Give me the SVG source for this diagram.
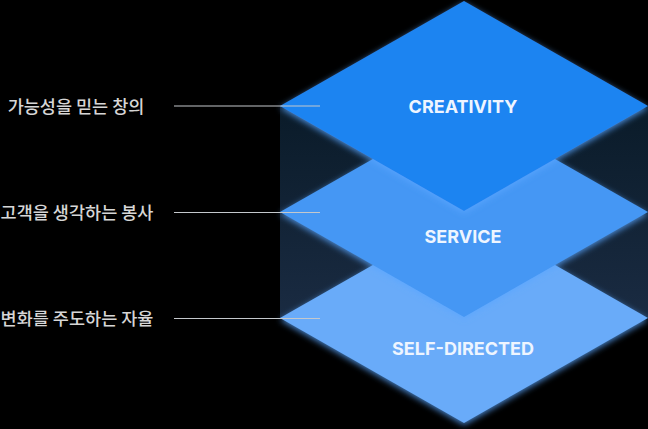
<svg xmlns="http://www.w3.org/2000/svg" width="648" height="429" viewBox="0 0 648 429">
  <defs>
    <linearGradient id="band" x1="0" y1="0" x2="0" y2="1">
      <stop offset="0" stop-color="#0a1b29"/>
      <stop offset="1" stop-color="#1a2b42"/>
    </linearGradient>
    <filter id="glow" x="-10%" y="-10%" width="120%" height="130%">
      <feDropShadow dx="0" dy="2" stdDeviation="3" flood-color="#5aa6ff" flood-opacity="0.8"/>
    </filter>
    <style>
      .kr { font-family: "Noto Sans CJK KR", "Noto Sans", sans-serif; font-size: 17.5px; fill: #d6d6d6; text-anchor: middle; font-weight: 500; }
      .en { font-family: Inter, "Liberation Sans", sans-serif; font-size: 18px; font-weight: 700; fill: #eef5ff; text-anchor: middle; }
      .lead { stroke: #c4c8cc; stroke-width: 1.2; fill: none; }
    </style>
  </defs>
  <rect width="648" height="429" fill="#000"/>

  <rect x="280" y="106" width="368" height="212" fill="url(#band)"/>

  <g id="self-directed">
    <polygon points="464,213 648,318 464,423 280,318" fill="#69abf9" filter="url(#glow)"/>
    <text class="en" x="463" y="354.5">SELF-DIRECTED</text>
  </g>
  <g id="service">
    <polygon points="464,107 648,212 464,317 280,212" fill="#4597f4" filter="url(#glow)"/>
    <text class="en" x="463" y="242.5">SERVICE</text>
  </g>
  <g id="creativity">
    <polygon points="464,1 648,106 464,211 280,106" fill="#1f84f1" filter="url(#glow)"/>
    <text class="en" x="463" y="112.5">CREATIVITY</text>
  </g>

  <g id="connectors">
    <line class="lead" x1="174" y1="106" x2="320" y2="106"/>
    <line class="lead" x1="174" y1="212.5" x2="320" y2="212.5"/>
    <line class="lead" x1="174" y1="318.5" x2="320" y2="318.5"/>
  </g>

  <g id="label-creativity"><text class="kr" x="76" y="112.5">가능성을 믿는 창의</text></g>
  <g id="label-service"><text class="kr" x="77" y="219">고객을 생각하는 봉사</text></g>
  <g id="label-self"><text class="kr" x="77" y="325">변화를 주도하는 자율</text></g>
</svg>
